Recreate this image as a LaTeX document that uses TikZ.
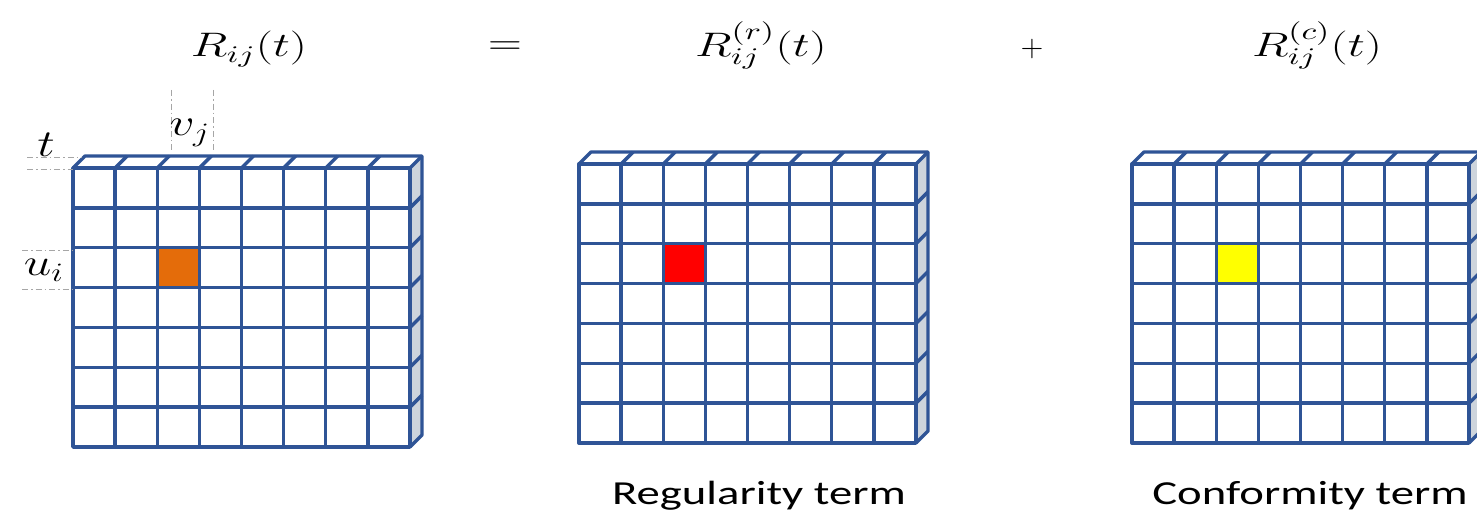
\RequirePackage{fix-cm}
\documentclass[tikz,border=0pt]{standalone}
\usepackage{fontspec}
\setmainfont{Carlito}
\definecolor{gridblue}{RGB}{47,84,150}
\definecolor{sidegray}{RGB}{205,212,220}
\definecolor{cellorange}{RGB}{228,108,10}
\definecolor{cellred}{RGB}{255,0,0}
\definecolor{cellyellow}{RGB}{255,255,0}
\tikzset{
  gridline/.style={draw=gridblue, line width=1.7pt, line join=round},
  guide/.style={draw=gray!70, line width=0.4pt, dash pattern=on 3pt off 1.5pt on 0.8pt off 1.5pt},
  eqlbl/.style={inner sep=0pt, anchor=base, font=\fontsize{17}{19}\selectfont},
  axlbl/.style={inner sep=0pt, font=\fontsize{19}{21}\selectfont},
  termlbl/.style={inner sep=0pt, anchor=base, font=\fontsize{16.8}{20}\selectfont},
}
\newcommand{\wide}[1]{\scalebox{1.42}[1]{#1}}
\newcommand{\cubegrid}[3]{%
 \begin{scope}[shift={(#1,#2)}]
  \fill[#3] (84.25,79.71) rectangle (126.375,119.57);
  \fill[sidegray] (337,0) -- (349,-12) -- (349,267) -- (337,279) -- cycle;
  \draw[gridline] (0,0) rectangle (337,279);
  \foreach \i in {1,...,7} \draw[gridline] (\i*42.125,0) -- (\i*42.125,279);
  \foreach \j in {1,...,6} \draw[gridline] (0,\j*39.857) -- (337,\j*39.857);
  \draw[gridline] (0,0) -- (12,-12) -- (349,-12) -- (349,267) -- (337,279);
  \foreach \i in {1,...,8} \draw[gridline] (\i*42.125,0) -- ++(12,-12);
  \foreach \j in {1,...,6} \draw[gridline] (337,\j*39.857) -- ++(12,-12);
 \end{scope}}
\begin{document}
\begin{tikzpicture}[x=0.5pt,y=-0.5pt]
\useasboundingbox (0,0) rectangle (1477,528);
\clip (0,0) rectangle (1477,528);
\fill[white] (0,0) rectangle (1477,528);
% grids
\cubegrid{73}{168}{cellorange}
\cubegrid{579}{164}{cellred}
\cubegrid{1132}{164}{cellyellow}
% guide lines
\draw[guide] (27,157) -- (82,157);
\draw[guide] (27,169) -- (73,169);
\draw[guide] (22,250) -- (73,250);
\draw[guide] (22,289) -- (73,289);
\draw[guide] (171,90) -- (171,152);
\draw[guide] (213,90) -- (213,152);
% labels
\node[axlbl] (tl) at (46,145) {\scalebox{1.3}[1]{$t$}};
\node[axlbl] (ul) at (44,270) {\scalebox{1.3}[1]{$u_i$}};
\node[axlbl] (vl) at (190,133) {\scalebox{1.3}[1]{$v_j$}};
\node[eqlbl] (R) at (249,57) {\wide{$R_{ij}(t)$}};
\node[eqlbl, font=\fontsize{18}{20}\selectfont] (eq) at (505,55) {\scalebox{1.3}[1]{$=$}};
\node[eqlbl] (Rr) at (761,57) {\wide{$R^{(r)}_{ij}(t)$}};
\node[eqlbl, font=\fontsize{15}{17}\selectfont] (plus) at (1032,57) {$+$};
\node[eqlbl] (Rc) at (1317,57) {\wide{$R^{(c)}_{ij}(t)$}};
\node[termlbl] (reg) at (759,505) {\scalebox{1.39}[1]{Regularity term}};
\node[termlbl] (conf) at (1310,505) {\scalebox{1.39}[1]{Conformity term}};
\end{tikzpicture}
\end{document}
